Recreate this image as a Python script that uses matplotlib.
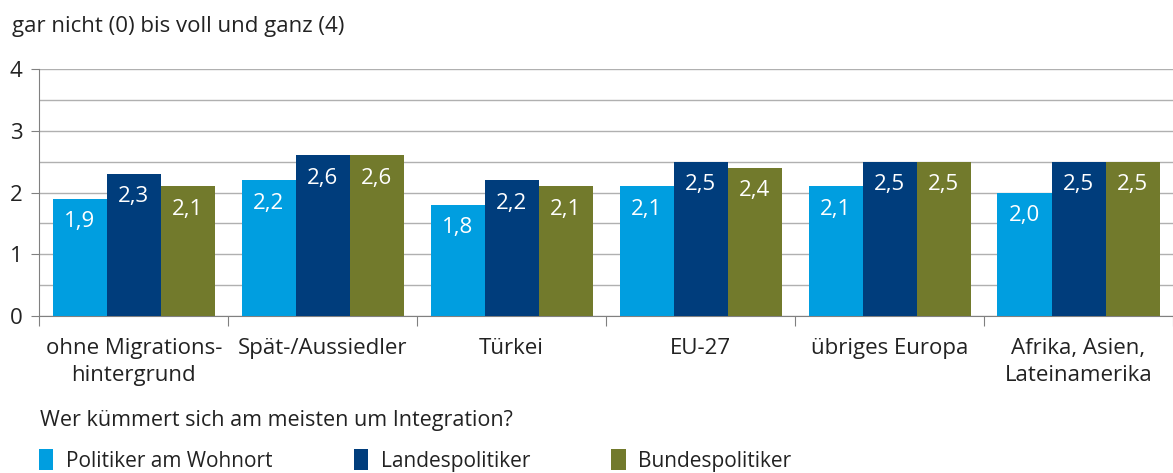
import numpy as np
import matplotlib
matplotlib.use("Agg")
import matplotlib.pyplot as plt
from matplotlib.patches import Patch

plt.rcParams['font.family'] = ['Open Sans', 'DejaVu Sans']

# data
categories = ["ohne Migrations-\nhintergrund", "Spät-/Aussiedler", "Türkei",
              "EU-27", "übriges Europa", "Afrika, Asien,\nLateinamerika"]
series_names = ["Politiker am Wohnort", "Landespolitiker", "Bundespolitiker"]
wohnort = [1.9, 2.2, 1.8, 2.1, 2.1, 2.0]
land = [2.3, 2.6, 2.2, 2.5, 2.5, 2.5]
bund = [2.1, 2.6, 2.1, 2.4, 2.5, 2.5]
colors = ["#009ee0", "#003d7c", "#727a2c"]

fig = plt.figure(figsize=(11.73, 4.73), dpi=100)
ax = fig.add_axes([0.0335, 0.332, 0.9665, 0.522])

x = np.arange(len(categories))
w = 0.286
text_col = "#222222"
grid_col = "#b0b0b0"

for i, (vals, col) in enumerate(zip([wohnort, land, bund], colors)):
    bars = ax.bar(x + (i - 1) * w, vals, width=w, color=col, zorder=3)
    for b, v in zip(bars, vals):
        ax.text(b.get_x() + b.get_width() / 2, v - 0.37, f"{v:.1f}".replace(".", ","),
                ha="center", va="center", color="white", fontsize=16, zorder=4)

ax.set_xlim(-0.5, len(categories) - 0.5)
ax.set_ylim(0, 4)
ax.set_yticks([0, 1, 2, 3, 4])
ax.set_yticks(np.arange(0, 4.01, 0.5), minor=True)
ax.yaxis.grid(True, which="both", color=grid_col, linewidth=1, zorder=0)
ax.tick_params(axis="y", which="major", length=6, color="#808080", labelsize=16,
               labelcolor=text_col, pad=6)
ax.tick_params(axis="y", which="minor", length=0)

ax.set_xticks(np.arange(-0.5, len(categories), 1.0))
ax.set_xticklabels([])
ax.set_xticks(x, minor=True)
ax.set_xticklabels(categories, minor=True, fontsize=16, color=text_col, linespacing=1.35)
ax.tick_params(axis="x", which="major", length=7, color="#808080")
ax.tick_params(axis="x", which="minor", length=0, pad=16)

for s in ["top", "right"]:
    ax.spines[s].set_visible(False)
ax.spines["left"].set_color("#808080")
ax.spines["bottom"].set_color("#808080")

fig.text(0.01, 0.945, "gar nicht (0) bis voll und ganz (4)", fontsize=16, color=text_col,
         va="center")
fig.text(0.034, 0.112, "Wer kümmert sich am meisten um Integration?", fontsize=15.5,
         color=text_col, va="center")

handles = [Patch(facecolor=c) for c in colors]
fig.legend(handles, series_names, loc="center left", bbox_to_anchor=(0.017, 0.027),
           ncol=3, frameon=False, fontsize=15, handlelength=0.7, handleheight=1.2,
           handletextpad=0.6, columnspacing=3.9, labelcolor=text_col)

fig.savefig("out.png", dpi=100)
